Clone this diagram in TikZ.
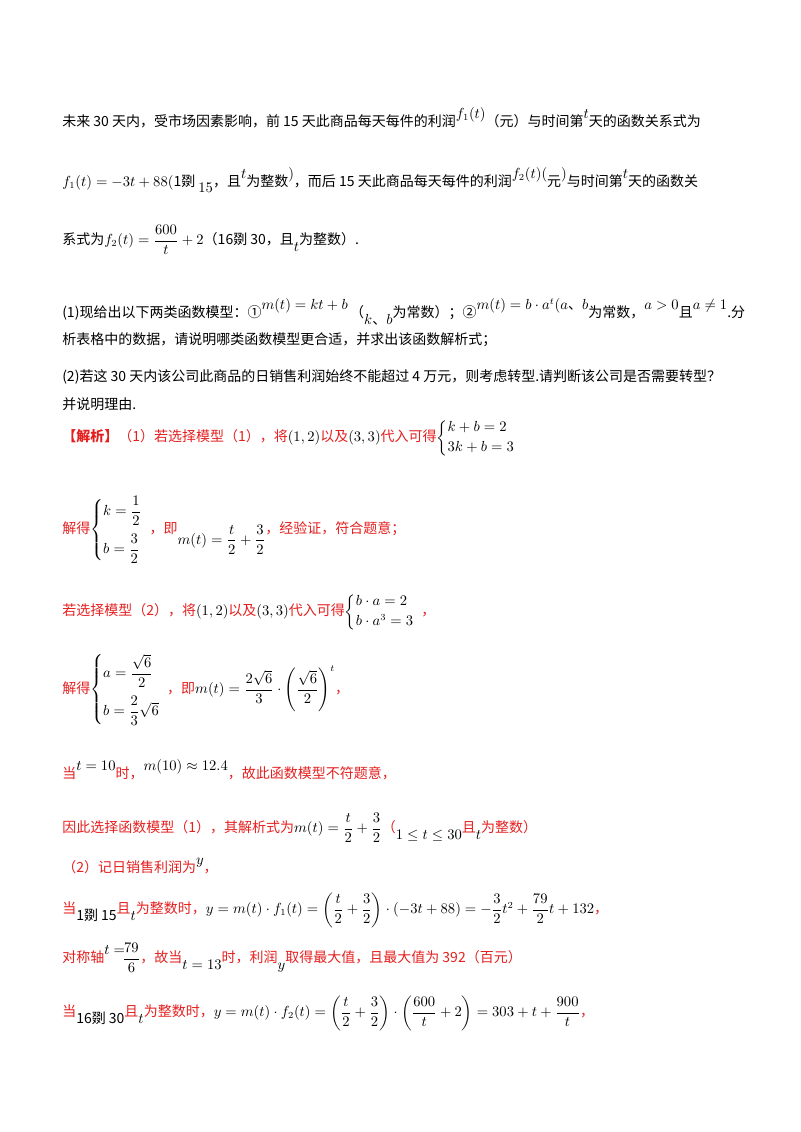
\documentclass[tikz,border=0pt]{standalone}
\usepackage{amsmath}
\usepackage{fontspec}
\setmainfont{Noto Sans CJK SC}
\definecolor{jred}{RGB}{228,32,32}
\newcommand{\mm}[1]{{\color{black}$#1$}}
\newcommand{\up}[1]{{\color{black}\raisebox{6pt}{$#1$}}}
\newcommand{\dn}[1]{{\color{black}\raisebox{-5pt}{$#1$}}}
\begin{document}
\begin{tikzpicture}[x=0.75pt,y=-0.75pt,
  ln/.style={anchor=west,inner sep=0pt,font=\fontsize{10.5}{13}\selectfont},
  rl/.style={ln,text=jred}]
\useasboundingbox (0,0) rectangle (800,1132);
\node[ln] (l1) at (62,118) {未来 30 天内，受市场因素影响，前 15 天此商品每天每件的利润\up{f_1(t)}（元）与时间第\up{t}天的函数关系式为};
\node[ln] (l2) at (62,180) {$f_1(t)=-3t+88($1剟 \dn{15}，且\up{t}为整数\up{)}，而后 15 天此商品每天每件的利润\up{f_2(t)(}元\up{)}与时间第\up{t}天的函数关};
\node[ln] (l3) at (62,240) {系式为$f_2(t)=\dfrac{600}{t}+2$（16剟 30，且\dn{t}为整数）.};
\node[ln] (l4) at (62,312) {(1)现给出以下两类函数模型：①\up{m(t)=kt+b}\,（\dn{k\text{、}b}为常数）；②\up{m(t)=b\cdot a^t(a\text{、}b}为常数，\up{a>0}且\up{a\neq 1}.分};
\node[ln] (l5) at (62,340) {析表格中的数据，请说明哪类函数模型更合适，并求出该函数解析式；};
\node[ln] (l6) at (62,377) {(2)若这 30 天内该公司此商品的日销售利润始终不能超过 4 万元，则考虑转型.请判断该公司是否需要转型？};
\node[ln] (l7) at (62,404) {并说明理由.};
\node[rl] (l8) at (62,438) {\textbf{【解析】}（1）若选择模型（1），将\mm{(1,2)}以及\mm{(3,3)}代入可得\mm{\left\{\begin{array}{@{}l}k+b=2\\[2pt]3k+b=3\end{array}\right.}};
\node[rl] (l9) at (62,530) {解得\mm{\left\{\begin{array}{@{}l}k=\dfrac12\\[10pt]b=\dfrac32\end{array}\right.}，即\raisebox{-8pt}{\mm{m(t)=\dfrac t2+\dfrac32}}，经验证，符合题意；};
\node[rl] (l10) at (62,612) {若选择模型（2），将\mm{(1,2)}以及\mm{(3,3)}代入可得\mm{\left\{\begin{array}{@{}l}b\cdot a=2\\[2pt]b\cdot a^3=3\end{array}\right.}，};
\node[rl] (l11) at (62,690) {解得\mm{\left\{\begin{array}{@{}l}a=\dfrac{\sqrt6}{2}\\[10pt]b=\dfrac23\sqrt6\end{array}\right.}，即\mm{m(t)=\dfrac{2\sqrt6}{3}\cdot\left(\dfrac{\sqrt6}{2}\right)^t}，};
\node[rl] (l12) at (62,770) {当\up{t=10}时，\up{m(10)\approx12.4}，故此函数模型不符题意，};
\node[rl] (l13) at (62,828) {因此选择函数模型（1），其解析式为\mm{m(t)=\dfrac t2+\dfrac32}（\dn{1\le t\le 30}且\dn{t}为整数）};
\node[rl] (l14) at (62,866) {（2）记日销售利润为\up{y}，};
\node[rl] (l15) at (62,910) {当{\color{black}\raisebox{-5pt}{1剟 15}}且\dn{t}为整数时，\mm{y=m(t)\cdot f_1(t)=\left(\dfrac t2+\dfrac32\right)\cdot(-3t+88)=-\dfrac32t^2+\dfrac{79}{2}t+132}，};
\node[rl] (l16) at (62,958) {对称轴\up{t=}\mm{\!\dfrac{79}{6}}，故当\dn{t=13}时，利润\dn{y}取得最大值，且最大值为 392（百元）};
\node[rl] (l17) at (62,1013) {当{\color{black}\raisebox{-5pt}{16剟 30}}且\dn{t}为整数时，\mm{y=m(t)\cdot f_2(t)=\left(\dfrac t2+\dfrac32\right)\cdot\left(\dfrac{600}{t}+2\right)=303+t+\dfrac{900}{t}}，};
\end{tikzpicture}
\end{document}
